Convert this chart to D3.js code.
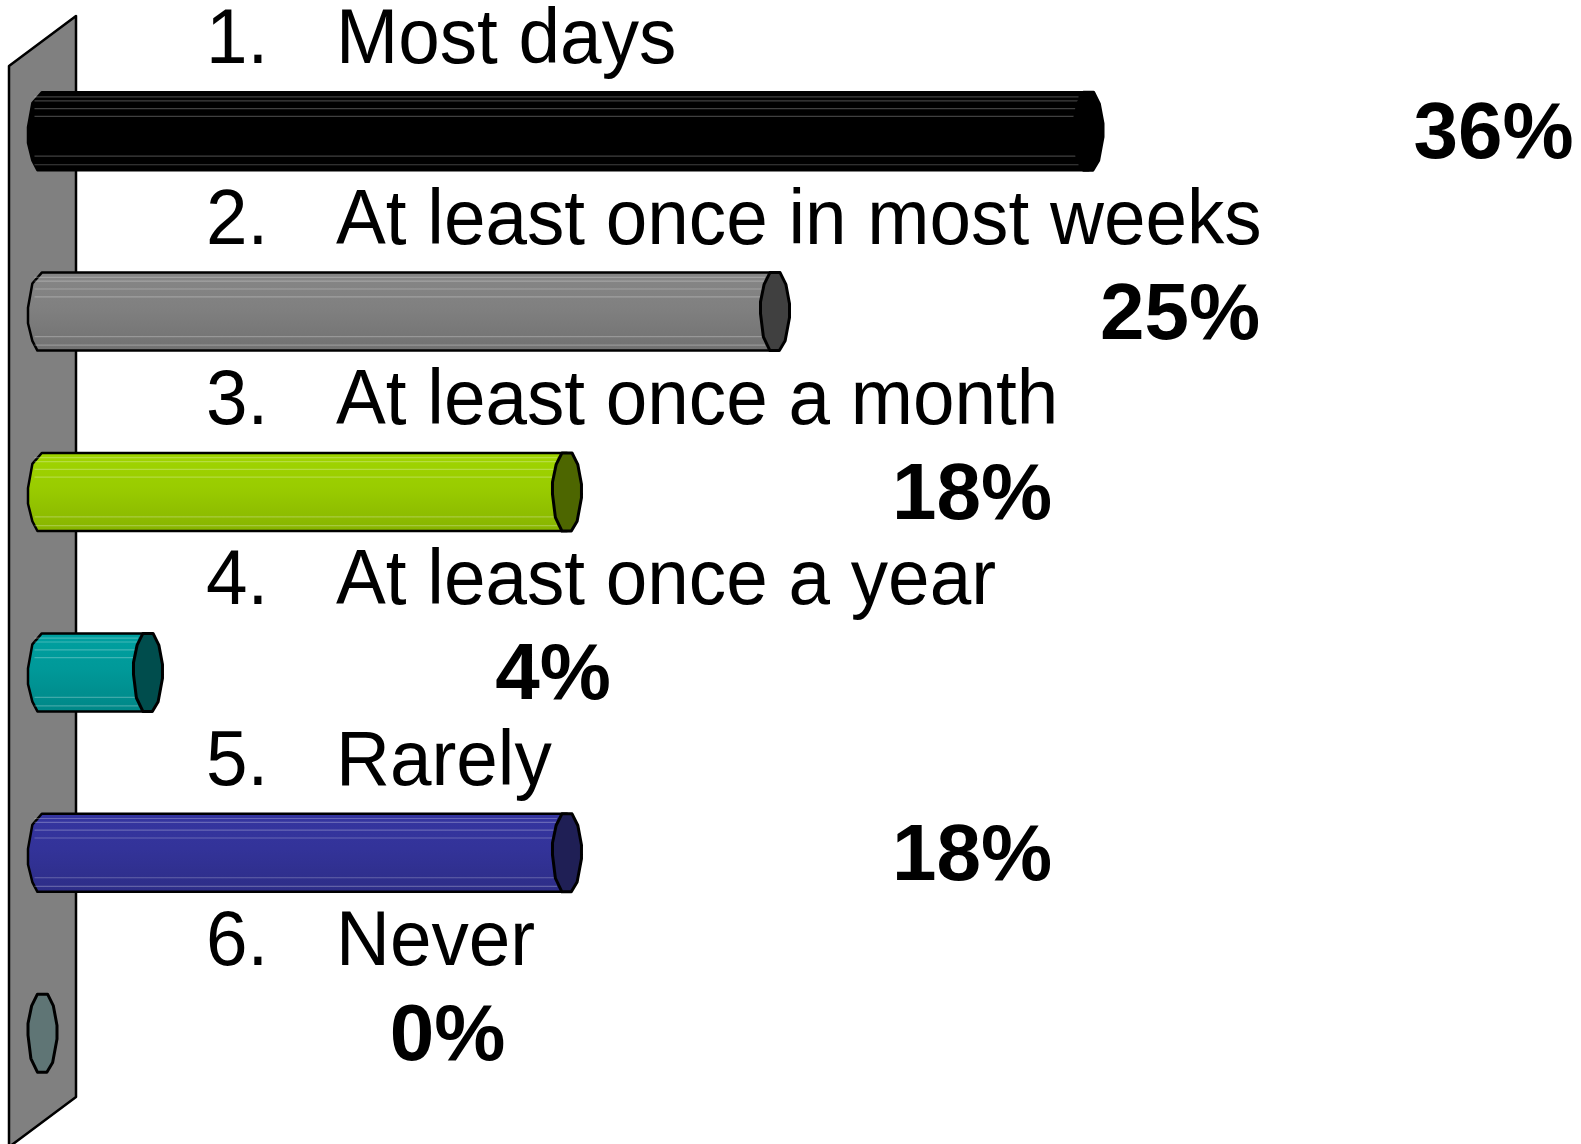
<!DOCTYPE html>
<html>
<head>
<meta charset="utf-8">
<script src="https://cdn.jsdelivr.net/npm/d3@7"></script>
<style>
  body { margin: 0; background: #fff; }
  text { font-family: "Liberation Sans", Arial, sans-serif; }
</style>
</head>
<body>
<svg id="chart" width="1581" height="1144"></svg>
<script>
// Data (28 responses: 10, 7, 5, 1, 5, 0)
const categories = ["Most days", "At least once in most weeks", "At least once a month",
                    "At least once a year", "Rarely", "Never"];
const values = [35.7, 25, 17.9, 3.6, 17.9, 0];
const valueLabels = ["36%", "25%", "18%", "4%", "18%", "0%"];
const colors = ["#000000", "#808080", "#99cc00", "#009999", "#333399", "#5f7575"];
const capColors = ["#000000", "#404040", "#4d6600", "#004d4d", "#1f1f55", "#5f7575"];

const svg = d3.select("#chart");

// scales
const x = d3.scaleLinear().domain([0, 40]).range([42.5, 1214.5]);
const y = d3.scaleBand().domain(categories).range([41, 1123.4]);

const rx = 14.5, ry = 39;

// back wall
svg.append("path")
  .attr("d", "M9,66 L76,16 L76,1097 L9,1147 Z")
  .attr("fill", "#808080")
  .attr("stroke", "#000")
  .attr("stroke-width", 2.5)
  .attr("stroke-linejoin", "round");

// gradients for bar bodies
const defs = svg.append("defs");
colors.forEach(function (c, i) {
  const g = defs.append("linearGradient")
    .attr("id", "grad" + i)
    .attr("x1", 0).attr("y1", 0).attr("x2", 0).attr("y2", 1);
  g.append("stop").attr("offset", "0%").attr("stop-color", d3.color(c).brighter(0.12));
  g.append("stop").attr("offset", "45%").attr("stop-color", c);
  g.append("stop").attr("offset", "100%").attr("stop-color", d3.color(c).darker(0.35));
});

// unit shapes for the prism ends
const capPts = [[-0.35, -1], [0.35, -1], [0.75, -0.7], [1, -0.2], [1, 0.15], [0.7, 0.75],
                [0.3, 1], [-0.35, 1], [-0.8, 0.65], [-1, 0.05], [-1, -0.25], [-0.75, -0.7]];
const leftPts = [[-0.35, 1], [-0.7, 0.75], [-1, 0.3], [-1, -0.1], [-0.7, -0.72], [-0.05, -1]];
const stripes = [-0.88, -0.78, -0.58, -0.38, 0.64, 0.86];

const line = d3.line().curve(d3.curveLinearClosed);

const bars = svg.append("g").selectAll("g")
  .data(categories)
  .enter()
  .append("g");

bars.each(function (d, i) {
  const g = d3.select(this);
  const cy = y(d) + y.bandwidth() / 2;
  const x0 = x(0);
  const x1 = x(values[i]);

  if (values[i] > 0) {
    // body: left end + top/bottom edges
    const body = leftPts.map(function (p) { return [x0 + p[0] * rx, cy + p[1] * ry]; });
    body.push([x1, cy - ry]);
    body.push([x1, cy + ry]);
    g.append("path")
      .attr("d", line(body))
      .attr("fill", "url(#grad" + i + ")")
      .attr("stroke", "#000")
      .attr("stroke-width", 2.5)
      .attr("stroke-linejoin", "round");

    // highlight stripes
    g.selectAll("line.stripe")
      .data(stripes)
      .enter()
      .append("line")
      .attr("class", "stripe")
      .attr("x1", x0 - 8)
      .attr("x2", x1 - 10)
      .attr("y1", function (s) { return cy + s * ry; })
      .attr("y2", function (s) { return cy + s * ry; })
      .attr("stroke", "#fff")
      .attr("stroke-opacity", 0.25)
      .attr("stroke-width", 1.2);
  }

  // end cap
  g.append("path")
    .attr("d", line(capPts.map(function (p) { return [x1 + p[0] * rx, cy + p[1] * ry]; })))
    .attr("fill", capColors[i])
    .attr("stroke", "#000")
    .attr("stroke-width", 3)
    .attr("stroke-linejoin", "round");

  // category label
  const lab = g.append("g")
    .attr("transform", "translate(0," + (cy - 68) + ")");
  lab.append("text")
    .attr("transform", "translate(206,0) scale(0.97,1)")
    .attr("font-size", 77)
    .attr("fill", "#000")
    .text((i + 1) + ".");
  lab.append("text")
    .attr("transform", "translate(336,0) scale(0.97,1)")
    .attr("font-size", 77)
    .attr("fill", "#000")
    .text(d);

  // value label
  g.append("text")
    .attr("x", x1 + 405)
    .attr("y", cy + 27)
    .attr("text-anchor", "middle")
    .attr("font-size", 80)
    .attr("font-weight", "bold")
    .attr("fill", "#000")
    .text(valueLabels[i]);
});
</script>
</body>
</html>
